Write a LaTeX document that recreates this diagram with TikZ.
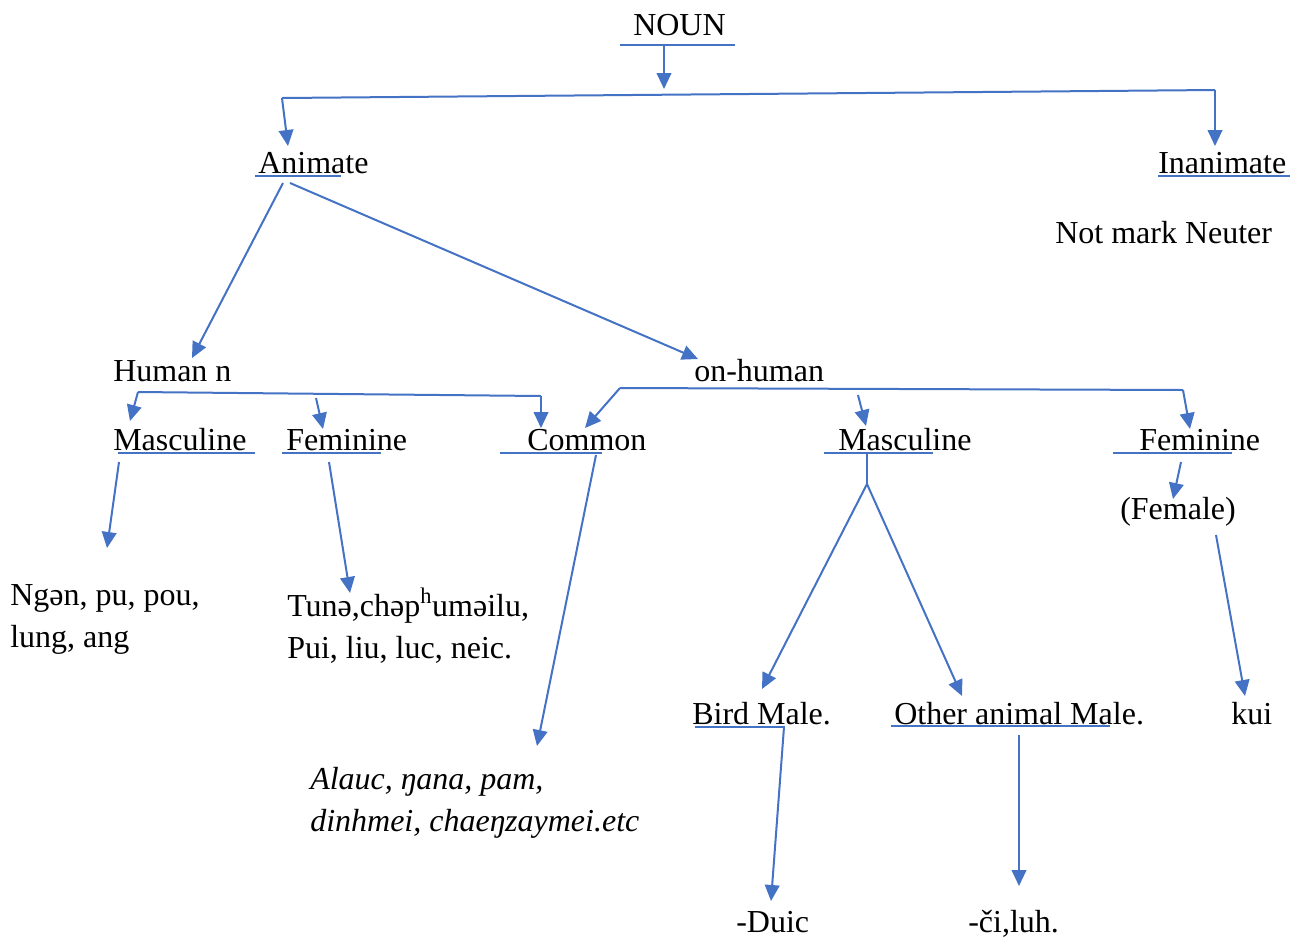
\documentclass[tikz,border=0pt]{standalone}
\usepackage{fontspec}
\setmainfont{Liberation Serif}
\usetikzlibrary{arrows.meta}
\definecolor{lblue}{RGB}{68,114,196}
\begin{document}
\begin{tikzpicture}[x=0.75pt,y=-0.75pt,
  txt/.style={anchor=base west,inner sep=0pt,font=\fontsize{24}{31.5}\selectfont},
  ml/.style={txt,align=left},
  ln/.style={draw=lblue,line width=1.5pt},
  arr/.style={ln,-{Triangle[length=12pt,width=11pt]}},
  ul/.style={draw=lblue,line width=1.3pt}]
\useasboundingbox (0,0) rectangle (1293,940);
% texts
\node[txt] (noun) at (633,35) {NOUN};
\node[txt] (anim) at (258,173) {Animate};
\node[txt] (inan) at (1158,173) {Inanimate};
\node[txt] (neut) at (1055,243) {Not mark Neuter};
\node[txt] (hum) at (113,381) {Human n};
\node[txt] (nonhum) at (694,381) {on-human};
\node[txt] (hmasc) at (113,450) {Masculine};
\node[txt] (hfem) at (286,450) {Feminine};
\node[txt] (comm) at (527,450) {Common};
\node[txt] (nmasc) at (838,450) {Masculine};
\node[txt] (nfem) at (1139,450) {Feminine};
\node[txt] (female) at (1120,519) {(Female)};
\node[ml] (ngen) at (10,647) {Ngən, pu, pou,\\lung, ang};
\node[ml] (tune) at (287,658) {Tunə,chəp\textsuperscript{h}umәilu,\\Pui, liu, luc, neic.};
\node[ml,font=\fontsize{24}{31.5}\selectfont\itshape] (alauc) at (310,831) {Alauc, ŋana, pam,\\dinhmei, chaeŋzaymei.etc};
\node[txt] (bird) at (692,724) {Bird Male.};
\node[txt] (other) at (894,724) {Other animal Male.};
\node[txt] (kui) at (1231,724) {kui};
\node[txt] (duic) at (736,932) {-Duic};
\node[txt] (ci) at (968,932) {-či,luh.};
% underlines
\draw[ul] (620,45) -- (735,45);
\draw[ul] (255,176) -- (341,176);
\draw[ul] (1158,176) -- (1290,176);
\draw[ul] (118,453) -- (255,453);
\draw[ul] (282,453) -- (381,453);
\draw[ul] (500,453) -- (602,453);
\draw[ul] (824,453) -- (933,453);
\draw[ul] (1113,453) -- (1232,453);
\draw[ul] (695,727) -- (785,727);
\draw[ul] (891,726) -- (1110,726);
% coordinates
\coordinate (nb) at (664,45);
\coordinate (nt) at (664,89);
\coordinate (bl) at (282,98);
\coordinate (br) at (1215,90);
\coordinate (animT) at (288,146);
\coordinate (inanT) at (1215,146);
\coordinate (hl) at (138,392);
\coordinate (hr) at (541,396);
\coordinate (nl) at (620,388);
\coordinate (nr) at (1183,390);
\coordinate (split) at (867,484);
% connectors
\draw[arr] (nb) -- (nt);
\draw[ln] (bl) -- (br);
\draw[arr] (bl) -- (animT);
\draw[arr] (br) -- (inanT);
\draw[arr] (283,183) -- (192,358);
\draw[arr] (290,183) -- (698,359);
\draw[ln] (hl) -- (hr);
\draw[arr] (hl) -- (130,421);
\draw[arr] (hr) -- (541,428);
\draw[arr] (316,398) -- (323,429);
\draw[ln] (nl) -- (nr);
\draw[arr] (nl) -- (585,428);
\draw[arr] (nr) -- (1190,429);
\draw[arr] (858,395) -- (866,426);
\draw[arr] (1181,462) -- (1173,499);
\draw[ln] (867,453) -- (split);
\draw[arr] (split) -- (762,689);
\draw[arr] (split) -- (962,696);
\draw[arr] (1216,535) -- (1245,696);
\draw[arr] (119,462) -- (107,548);
\draw[arr] (329,462) -- (350,593);
\draw[arr] (596,455) -- (537,746);
\draw[arr] (784,727) -- (771,901);
\draw[arr] (1019,735) -- (1019,886);
\end{tikzpicture}
\end{document}
